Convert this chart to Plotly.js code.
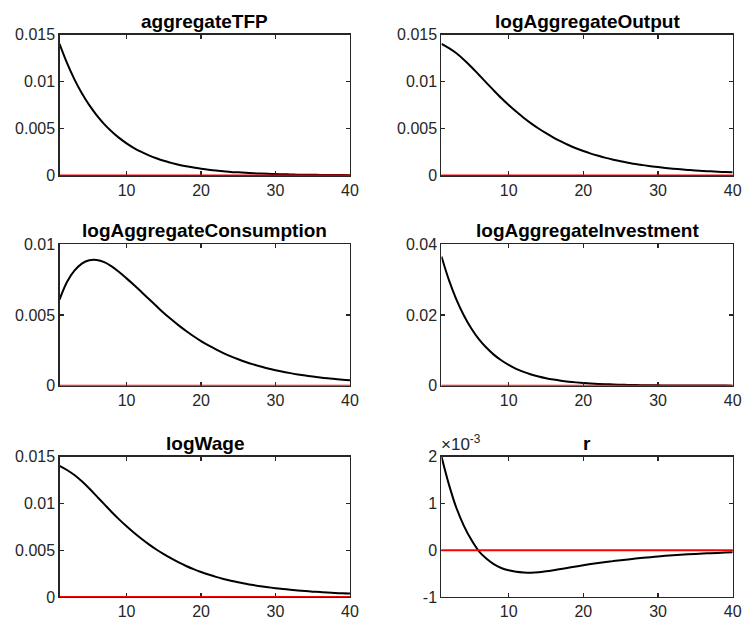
<!DOCTYPE html>
<html>
<head>
<meta charset="utf-8">
<script src="https://cdn.plot.ly/plotly-3.0.1.min.js"></script>
<style>html,body{margin:0;padding:0;background:#fff;}#chart{width:744px;height:624px;}</style>
</head>
<body>
<div id="chart"></div>
<script>
// ---- data ----
var periods = [1,2,3,4,5,6,7,8,9,10,11,12,13,14,15,16,17,18,19,20,21,22,23,24,25,26,27,28,29,30,31,32,33,34,35,36,37,38,39,40];

var panelTitles = ["aggregateTFP","logAggregateOutput","logAggregateConsumption","logAggregateInvestment","logWage","r"];

var aggregateTFP = [0.01400,0.01197,0.01023,0.00875,0.00748,0.00640,0.00547,0.00468,0.00400,0.00342,
  0.00292,0.00250,0.00214,0.00183,0.00156,0.00134,0.00114,0.00098,0.00084,0.00071,
  0.00061,0.00052,0.00045,0.00038,0.00033,0.00028,0.00024,0.00020,0.00017,0.00015,
  0.00013,0.00011,0.00009,0.00008,0.00007,0.00006,0.00005,0.00004,0.00004,0.00003];

var logAggregateOutput = [0.01400,0.01355,0.01300,0.01232,0.01155,0.01072,0.00988,0.00905,0.00825,0.00750,
  0.00680,0.00615,0.00555,0.00500,0.00450,0.00404,0.00362,0.00324,0.00290,0.00260,
  0.00233,0.00209,0.00187,0.00168,0.00151,0.00136,0.00122,0.00110,0.00099,0.00089,
  0.00080,0.00072,0.00065,0.00059,0.00053,0.00048,0.00044,0.00040,0.00036,0.00033];

var logAggregateConsumption = [0.00610,0.00735,0.00815,0.00865,0.00888,0.00890,0.00875,0.00845,0.00805,0.00760,
  0.00713,0.00664,0.00614,0.00564,0.00515,0.00470,0.00427,0.00387,0.00350,0.00316,
  0.00285,0.00257,0.00231,0.00208,0.00187,0.00168,0.00151,0.00136,0.00122,0.00110,
  0.00099,0.00089,0.00080,0.00072,0.00065,0.00058,0.00052,0.00047,0.00042,0.00038];

var logAggregateInvestment = [0.0366,0.0299,0.0244,0.0199,0.0162,0.0132,0.0108,0.0088,0.0072,0.00587,
  0.00479,0.00391,0.00319,0.00260,0.00212,0.00173,0.00141,0.00115,0.00094,0.00077,
  0.00063,0.00051,0.00042,0.00034,0.00028,0.00023,0.00018,0.00015,0.00012,0.00010,
  0.00008,0.00007,0.00005,0.00004,0.00004,0.00003,0.00002,0.00002,0.00002,0.00001];

var logWage = [0.01400,0.01356,0.01302,0.01235,0.01158,0.01075,0.00991,0.00908,0.00829,0.00755,
  0.00686,0.00622,0.00562,0.00507,0.00457,0.00411,0.00369,0.00331,0.00297,0.00267,
  0.00240,0.00215,0.00193,0.00174,0.00157,0.00141,0.00127,0.00115,0.00104,0.00094,
  0.00085,0.00077,0.00070,0.00063,0.00057,0.00052,0.00047,0.00043,0.00039,0.00036];

var r = [0.00200,0.00140,0.00090,0.00052,0.00022,-0.00002,-0.00018,-0.00030,-0.00038,-0.00043,
  -0.000460,-0.000475,-0.000480,-0.000472,-0.000452,-0.000428,-0.000402,-0.000375,-0.000348,-0.000322,
  -0.000298,-0.000275,-0.000254,-0.000234,-0.000215,-0.000197,-0.000180,-0.000164,-0.000149,-0.000135,
  -0.000122,-0.000110,-0.000099,-0.000089,-0.000080,-0.000072,-0.000065,-0.000058,-0.000052,-0.000046];

var steadyStateLevel = 0;

var xTickVals = [10,20,30,40];
var xTickText = ["10","20","30","40"];
var yTickVals015 = [0,0.005,0.01,0.015];
var yTickText015 = ["0","0.005","0.01","0.015"];
var yTickVals01 = [0,0.005,0.01];
var yTickText01 = ["0","0.005","0.01"];
var yTickVals04 = [0,0.02,0.04];
var yTickText04 = ["0","0.02","0.04"];
var yTickValsR = [-0.001,0,0.001,0.002];
var yTickTextR = ["-1","0","1","2"];

// ---- layout ----
var series = [aggregateTFP, logAggregateOutput, logAggregateConsumption, logAggregateInvestment, logWage, r];
var yRanges = [[0,0.015],[0,0.015],[0,0.01],[0,0.04],[0,0.015],[-0.001,0.002]];
var yTicks = [[yTickVals015,yTickText015],[yTickVals015,yTickText015],[yTickVals01,yTickText01],
              [yTickVals04,yTickText04],[yTickVals015,yTickText015],[yTickValsR,yTickTextR]];

var xDom = [[0.0800,0.4704],[0.5934,0.9848]];
var yDom = [[0.7188,0.9447],[0.3819,0.6082],[0.0433,0.2684]];

var font = "Liberation Sans, Arial, Helvetica, sans-serif";
var axisColor = "#262626";

var traces = [];
var layout = {
  width: 744, height: 624,
  margin: {l:0,r:0,t:0,b:0},
  paper_bgcolor: "#fff", plot_bgcolor: "#fff",
  showlegend: false,
  font: {family: font, color: axisColor, size: 16},
  shapes: [], annotations: []
};

for (var i = 0; i < 6; i++) {
  var row = Math.floor(i/2), col = i % 2;
  var sfx = i === 0 ? "" : String(i+1);
  traces.push({
    x: periods, y: series[i], type: "scatter", mode: "lines",
    xaxis: "x"+sfx, yaxis: "y"+sfx,
    line: {color: "#000", width: 2, shape: "spline", smoothing: 1}, hoverinfo: "skip"
  });
  var common = {
    showline: true, mirror: "ticks", ticks: "inside", ticklen: 4, tickwidth: 1.2,
    linecolor: axisColor, linewidth: 1.2, tickcolor: axisColor,
    showgrid: false, zeroline: false, fixedrange: true,
    tickfont: {family: font, size: 16, color: axisColor}
  };
  layout["xaxis"+sfx] = Object.assign({}, common, {
    domain: xDom[col], anchor: "y"+sfx, range: [1,40],
    tickmode: "array", tickvals: xTickVals, ticktext: xTickText
  });
  layout["yaxis"+sfx] = Object.assign({}, common, {
    domain: yDom[row], anchor: "x"+sfx, range: yRanges[i],
    tickmode: "array", tickvals: yTicks[i][0], ticktext: yTicks[i][1]
  });
  layout.shapes.push({
    type: "line", xref: "paper", yref: "y"+sfx,
    x0: xDom[col][0], x1: xDom[col][1], y0: steadyStateLevel, y1: steadyStateLevel, layer: "above",
    line: {color: "#ff0000", width: 2}
  });
  layout.annotations.push({
    text: "<b>"+panelTitles[i]+"</b>",
    xref: "paper", yref: "paper",
    x: (xDom[col][0]+xDom[col][1])/2, y: yDom[row][1],
    xanchor: "center", yanchor: "bottom", yshift: 1, showarrow: false,
    font: {family: font, size: 19, color: "#000"}
  });
}
layout.annotations.push({
  text: "×10<sup>-3</sup>",
  xref: "paper", yref: "paper",
  x: xDom[1][0], y: yDom[2][1],
  xanchor: "left", yanchor: "bottom", xshift: -2, yshift: 1, showarrow: false,
  font: {family: font, size: 17, color: axisColor}
});

Plotly.newPlot("chart", traces, layout, {staticPlot: true, displayModeBar: false});
</script>
</body>
</html>
